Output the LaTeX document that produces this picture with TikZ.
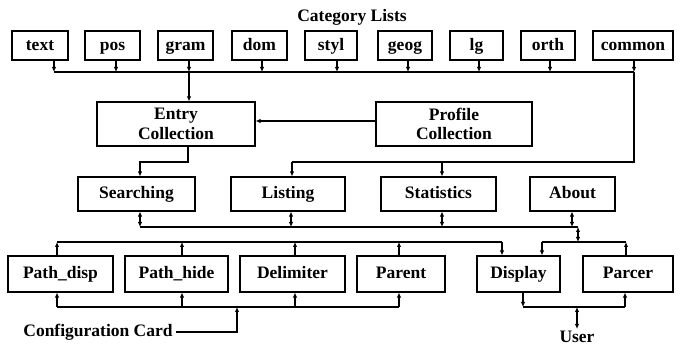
\documentclass[tikz,border=0pt]{standalone}
\usepackage{fontspec}
\setmainfont{Liberation Serif}
\usetikzlibrary{arrows.meta}
\begin{document}
\begin{tikzpicture}[x=1pt,y=-1pt,
  line width=1.1pt,
  every node/.style={font=\fontsize{17.5}{19.5}\selectfont\bfseries},
  box/.style={draw,line width=1.1pt,inner sep=0pt,align=center},
  sbox/.style={box,text height=14pt,text depth=4pt},
  arr/.style={-{Latex[length=5pt,width=4.5pt]}},
  dbl/.style={{Latex[length=5pt,width=4.5pt]}-{Latex[length=5pt,width=4.5pt]}}]
\useasboundingbox (0,0) rectangle (683,347);
% title
\node (title) at (352,17) {Category Lists};
% top row
\foreach \n/\cx/\w/\t in {text/40/56/text, pos/112.5/55/pos, gram/185.5/55/gram, dom/259.5/55/dom, styl/331/52/styl, geog/405/54/geog, lg/476.5/53/lg, orth/548/54/orth, common/633/80/common}
  \node[sbox,minimum width=\w pt,minimum height=29pt] (\n) at (\cx,45.5) {\t};
\foreach \n/\x in {text/54,pos/116,gram/189,dom/262,styl/337,geog/408,lg/479,orth/550,common/634}{
  \coordinate (\n-b) at (\x,72);
  \draw[arr] (\n.south -| \n-b) -- (\n-b);
}
\draw (text-b) -- (common-b);
% collections
\node[box,minimum width=158pt,minimum height=44pt] (entry) at (176,124) {Entry\\Collection};
\node[box,minimum width=156pt,minimum height=44pt] (profile) at (454,124) {Profile\\Collection};
\draw[arr] (gram-b) -- (gram-b |- entry.north);
\draw[arr] ([yshift=3pt]profile.west) -- ([yshift=3pt]entry.east);
% second row
\node[sbox,minimum width=117pt,minimum height=34pt] (search) at (136.5,194) {Searching};
\node[sbox,minimum width=114pt,minimum height=34pt] (listing) at (288,194) {Listing};
\node[sbox,minimum width=115pt,minimum height=34pt] (stats) at (438.5,194) {Statistics};
\node[sbox,minimum width=85pt,minimum height=34pt] (about) at (572.5,194) {About};
% common -> listing, statistics
\coordinate (cm) at (634,162);
\coordinate (ls) at (292,162);
\coordinate (st) at (442,162);
\draw (common-b) -- (cm) -- (ls);
\draw[arr] (ls) -- (ls |- listing.north);
\draw[arr] (st) -- (st |- stats.north);
% entry -> searching
\coordinate (e1) at (188,162);
\coordinate (e2) at (140,162);
\draw[arr] (entry.south -| e1) -- (e1) -- (e2) -- (e2 |- search.north);
% bus under second row
\foreach \n/\x in {search/140,listing/291,stats/442,about/572}{
  \coordinate (\n-b) at (\x,227);
  \draw[dbl] (\n.south -| \n-b) -- (\n-b);
}
\coordinate (m1) at (578,227);
\coordinate (m2) at (578,242);
\draw (search-b) -- (m1);
\draw[dbl] (m1) -- (m2);
% third row
\node[sbox,minimum width=105pt,minimum height=36pt] (pdisp) at (60.5,274) {Path\_disp};
\node[sbox,minimum width=103pt,minimum height=36pt] (phide) at (176.5,274) {Path\_hide};
\node[sbox,minimum width=105pt,minimum height=36pt] (delim) at (292.5,274) {Delimiter};
\node[sbox,minimum width=88pt,minimum height=36pt] (parent) at (401,274) {Parent};
\node[sbox,minimum width=83pt,minimum height=36pt] (display) at (518.5,274) {Display};
\node[sbox,minimum width=90pt,minimum height=36pt] (parcer) at (628,274) {Parcer};
% right upper bus
\coordinate (r1) at (542,242);
\coordinate (r2) at (626,242);
\draw (r1) -- (r2);
\draw[arr] (r1) -- (r1 |- display.north);
\draw[arr] (parcer.north -| r2) -- (r2);
% left upper bus and lower config bus
\foreach \n/\x in {pdisp/57,phide/182,delim/295,parent/399}{
  \coordinate (\n-t) at (\x,242);
  \draw[arr] (\n.north -| \n-t) -- (\n-t);
  \coordinate (\n-u) at (\x,307);
  \draw[arr] (\n-u) -- (\n-u |- \n.south);
}
\coordinate (dp-t) at (502,242);
\draw (pdisp-t) -- (dp-t);
\draw[arr] (dp-t) -- (dp-t |- display.north);
\draw (pdisp-u) -- (parent-u);
\node[inner sep=3pt] (cfg) at (98,332) {Configuration Card};
\coordinate (cf1) at (237,332);
\coordinate (cf2) at (237,307);
\draw[arr] (cfg.east) -- (cf1) -- (cf2);
% display / parcer / user
\coordinate (d1) at (523,307);
\coordinate (p1) at (625,307);
\coordinate (u1) at (577,307);
\draw[arr] (display.south -| d1) -- (d1);
\draw (d1) -- (p1);
\draw[arr] (p1) -- (p1 |- parcer.south);
\node[anchor=north,inner sep=1pt] (user) at (577,329) {User};
\draw[dbl] (u1) -- (user.north);
\end{tikzpicture}
\end{document}
